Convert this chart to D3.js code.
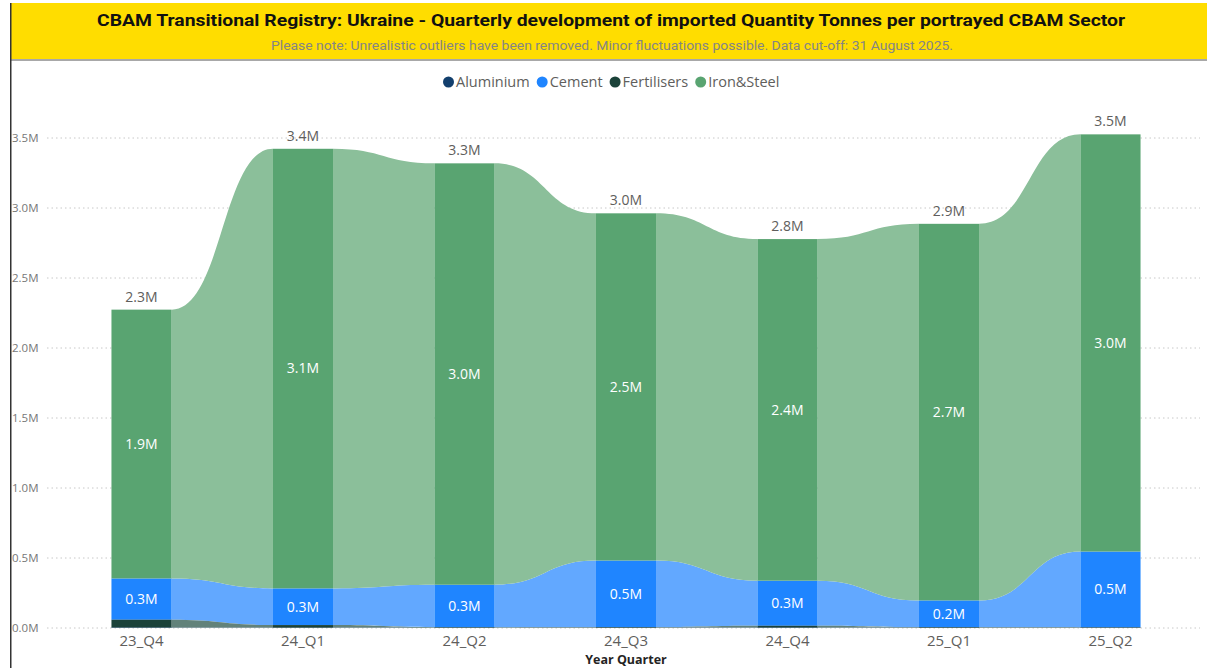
<!DOCTYPE html>
<html><head><meta charset="utf-8">
<script src="https://cdn.jsdelivr.net/npm/d3@7"></script>
<style>html,body{margin:0;padding:0;background:#fff;overflow:hidden}svg{display:block}</style>
</head><body>
<svg id="chart" width="1207" height="668"></svg>
<script>
// ---- Data (values in millions of tonnes) ----
const quarters = ["23_Q4","24_Q1","24_Q2","24_Q3","24_Q4","25_Q1","25_Q2"];
const seriesNames = ["Aluminium","Cement","Fertilisers","Iron&Steel"];
const aluminium   = [0.004, 0.003, 0.002, 0.003, 0.004, 0.003, 0.003];
const cement      = [0.295, 0.262, 0.303, 0.475, 0.322, 0.190, 0.540];
const fertilisers = [0.055, 0.018, 0.004, 0.004, 0.012, 0.004, 0.003];
const ironSteel   = [1.920, 3.140, 3.010, 2.480, 2.440, 2.690, 2.980];
const yTicks = [0, 0.5, 1.0, 1.5, 2.0, 2.5, 3.0, 3.5];
const titleText = "CBAM Transitional Registry: Ukraine - Quarterly development of imported Quantity Tonnes per portrayed CBAM Sector";
const subtitleText = "Please note: Unrealistic outliers have been removed. Minor fluctuations possible. Data cut-off: 31 August 2025.";
const xTitle = "Year Quarter";

const barColors = {"Aluminium":"#123f6d","Cement":"#1f85ff","Fertilisers":"#1b4239","Iron&Steel":"#59a471"};
const ribbonColors = {"Aluminium":"#5a7898","Cement":"#62a8ff","Fertilisers":"#62827a","Iron&Steel":"#8bbf9a"};

const seriesValues = {"Aluminium":aluminium,"Cement":cement,"Fertilisers":fertilisers,"Iron&Steel":ironSteel};

const svg = d3.select("#chart");
const font = "'Segoe UI','Open Sans','Noto Sans',sans-serif";

// ---- Header ----
svg.append("rect").attr("x",11).attr("y",3).attr("width",1196).attr("height",57).attr("fill","#ffdd00");
svg.append("rect").attr("x",11).attr("y",59).attr("width",1196).attr("height",2).attr("fill","#a8a8a8");
svg.append("rect").attr("x",10).attr("y",3).attr("width",1.5).attr("height",665).attr("fill","#333");
svg.append("text").attr("x",611).attr("y",26).attr("text-anchor","middle")
  .attr("font-family","'Roboto','DejaVu Sans',sans-serif").attr("font-weight","bold").attr("font-size",17)
  .attr("textLength",1028).attr("lengthAdjust","spacingAndGlyphs").attr("fill","#111").text(titleText);
svg.append("text").attr("x",612).attr("y",50).attr("text-anchor","middle")
  .attr("font-family","'Roboto',sans-serif").attr("font-size",12.5)
  .attr("textLength",682).attr("lengthAdjust","spacingAndGlyphs").attr("fill","#858585").text(subtitleText);

// ---- Scales ----
const x = d3.scaleBand().domain(quarters).range([60.75, 1191.25]).paddingInner(0.628).paddingOuter(0.314);
const y = d3.scaleLinear().domain([0, 3.5]).range([628, 138]);

// gridlines & y labels
const gy = svg.append("g");
yTicks.forEach(t => {
  gy.append("line").attr("x1",47).attr("x2",1200).attr("y1",y(t)).attr("y2",y(t))
    .attr("stroke","#c8c8c8").attr("stroke-width",1).attr("stroke-dasharray","1.5,3");
  gy.append("text").attr("x",12).attr("y",y(t)).attr("dy","0.35em")
    .attr("font-family",font).attr("font-size",11.5).attr("fill","#777")
    .text(d3.format(".1f")(t)+"M");
});

// ---- Stack per column, smallest at bottom (ribbon chart ranking) ----
const stacks = quarters.map((q,i) => {
  const items = seriesNames.map(s => ({s, v: seriesValues[s][i]}));
  const sorted = items.slice().sort((a,b)=>a.v-b.v);
  let acc = 0; const res = {};
  sorted.forEach(it => { res[it.s] = {y0: acc, y1: acc + it.v, v: it.v}; acc += it.v; });
  res.total = acc;
  return res;
});

// ---- Ribbons ----
const gr = svg.append("g");
seriesNames.forEach(s => {
  for (let i = 0; i < quarters.length - 1; i++) {
    const a = stacks[i][s], b = stacks[i+1][s];
    const x1 = x(quarters[i]) + x.bandwidth();
    const x2 = x(quarters[i+1]);
    const xm = (x1 + x2) / 2;
    const p = d3.path();
    p.moveTo(x1, y(a.y1));
    p.bezierCurveTo(xm, y(a.y1), xm, y(b.y1), x2, y(b.y1));
    p.lineTo(x2, y(b.y0));
    p.bezierCurveTo(xm, y(b.y0), xm, y(a.y0), x1, y(a.y0));
    p.closePath();
    gr.append("path").attr("d", p.toString()).attr("fill", ribbonColors[s]);
  }
});

// ---- Bars ----
const gb = svg.append("g");
quarters.forEach((q,i) => {
  seriesNames.forEach(s => {
    const d = stacks[i][s];
    gb.append("rect").attr("x", x(q)).attr("width", x.bandwidth())
      .attr("y", y(d.y1)).attr("height", Math.max(0, y(d.y0) - y(d.y1)))
      .attr("fill", barColors[s]);
  });
});

// ---- Labels ----
const gl = svg.append("g").attr("font-family",font);
quarters.forEach((q,i) => {
  const cx = x(q) + x.bandwidth()/2;
  seriesNames.forEach(s => {
    const d = stacks[i][s];
    if (y(d.y0) - y(d.y1) > 18) {
      gl.append("text").attr("x",cx).attr("y",(y(d.y0)+y(d.y1))/2).attr("dy","0.35em")
        .attr("text-anchor","middle").attr("font-size",14).attr("fill","#fff")
        .text(d3.format(".1f")(d.v)+"M");
    }
  });
  gl.append("text").attr("x",cx).attr("y",y(stacks[i].total)-13).attr("dy","0.35em")
    .attr("text-anchor","middle").attr("font-size",14).attr("fill","#605e5c")
    .text(d3.format(".1f")(stacks[i].total)+"M");
  gl.append("text").attr("x",cx).attr("y",641).attr("dy","0.35em")
    .attr("text-anchor","middle").attr("font-size",15).attr("fill","#605e5c").text(q);
});
svg.append("text").attr("x",626).attr("y",664).attr("text-anchor","middle")
  .attr("font-family",font).attr("font-weight","bold").attr("font-size",12.5).attr("fill","#252423").text(xTitle);

// ---- Legend ----
const lg = svg.append("g").attr("font-family",font);
let lx = 443;
seriesNames.forEach(s => {
  lg.append("circle").attr("cx", lx+5.5).attr("cy", 82).attr("r", 5.5).attr("fill", barColors[s]);
  const t = lg.append("text").attr("x", lx+13).attr("y", 82).attr("dy","0.35em")
    .attr("font-size",14.5).attr("fill","#605e5c").text(s);
  lx += 13 + t.node().getComputedTextLength() + 7;
});
</script>
</body></html>
